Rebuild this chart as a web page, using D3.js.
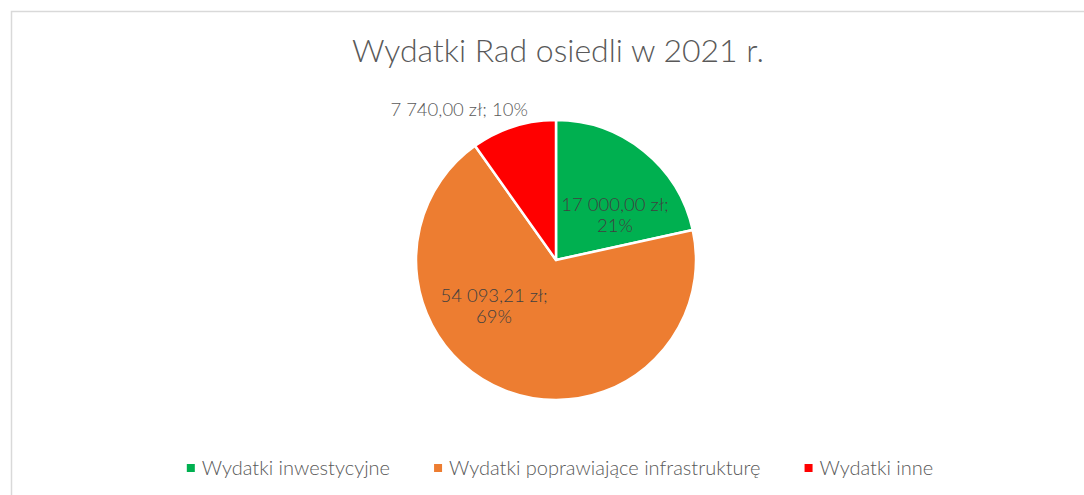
<!DOCTYPE html>
<html>
<head>
<meta charset="utf-8">
<script src="https://cdn.jsdelivr.net/npm/d3@7"></script>
<style>
  html, body { margin: 0; padding: 0; background: #fff; }
  svg { display: block; font-family: Lato, "Open Sans", sans-serif; }
</style>
</head>
<body>
<svg id="chart" width="1084" height="495"></svg>
<script>
'use strict';
// Data
const categories = ['Wydatki inwestycyjne', 'Wydatki poprawiające infrastrukturę', 'Wydatki inne'];
const values = [17000.00, 54093.21, 7740.00];
const colors = ['#00B050', '#ED7D31', '#FF0000'];
const title = 'Wydatki Rad osiedli w 2021 r.';

const width = 1084, height = 495;
const cx = 556, cy = 260, radius = 140;

const svg = d3.select('#chart');

// chart frame
svg.append('rect')
  .attr('x', 11.5).attr('y', 11.5)
  .attr('width', width + 20).attr('height', height + 20)
  .attr('fill', 'none').attr('stroke', '#d9d9d9').attr('stroke-width', 1.5);

svg.append('text')
  .attr('x', cx + 2).attr('y', 62)
  .attr('text-anchor', 'middle')
  .attr('font-size', 32).attr('font-weight', 300)
  .attr('fill', '#595959')
  .text(title);

const pl = d3.formatLocale({decimal: ',', thousands: ' ', grouping: [3], currency: ['', ' zł']});
const money = pl.format(',.2f');
const total = d3.sum(values);

// whole percents that add up to 100 (largest remainder), like the labels show
const raw = values.map(v => v / total * 100);
const pcts = raw.map(Math.floor);
let left = 100 - d3.sum(pcts);
d3.range(values.length)
  .sort((a, b) => (raw[b] - pcts[b]) - (raw[a] - pcts[a]))
  .forEach(i => { if (left > 0) { pcts[i]++; left--; } });

const items = categories.map((name, i) => ({name, value: values[i], color: colors[i], pct: pcts[i] + '%'}));
const pie = d3.pie().value(d => d.value).sort(null);
const arcs = pie(items);
const arc = d3.arc().innerRadius(0).outerRadius(radius);

const g = svg.append('g').attr('transform', `translate(${cx},${cy})`);
g.selectAll('path').data(arcs).enter().append('path')
  .attr('d', arc)
  .attr('fill', d => d.data.color)
  .attr('stroke', '#fff').attr('stroke-width', 2.5)
  .attr('stroke-linejoin', 'round');

// data labels
const inner = arcs.filter(d => d.value / total >= 0.15);
const outer = arcs.filter(d => d.value / total < 0.15);

inner.forEach(d => {
  const big = d.value / total > 0.5;
  // Excel nudges labels away from the centroid to fit the slice
  const a = big ? d.startAngle + (d.endAngle - d.startAngle) * 0.633 : (d.startAngle + d.endAngle) / 2 + 0.23;
  const r = big ? radius * 0.547 : radius * 0.534;
  const x = r * Math.sin(a), y = -r * Math.cos(a);
  const t = g.append('text')
    .attr('text-anchor', 'middle')
    .attr('font-size', 18.5).attr('font-weight', 300).attr('fill', '#404040');
  t.append('tspan').attr('x', x).attr('y', y - 3).text(money(d.value) + ' zł;');
  t.append('tspan').attr('x', x).attr('dy', 21).text(d.data.pct);
});

outer.forEach(d => {
  const a = (d.startAngle + d.endAngle) / 2;
  const r = radius + 12;
  g.append('text')
    .attr('x', r * Math.sin(a) + 18).attr('y', -r * Math.cos(a) + 1)
    .attr('text-anchor', 'end')
    .attr('font-size', 18.5).attr('font-weight', 300).attr('fill', '#595959')
    .text(money(d.value) + ' zł; ' + d.data.pct);
});

// legend
const legend = svg.append('g').attr('transform', 'translate(0,468)');
const lg = legend.selectAll('g').data(items).enter().append('g');
lg.append('rect').attr('width', 8).attr('height', 8).attr('y', -4)
  .attr('fill', d => d.color);
lg.append('text').attr('x', 15).attr('y', 7)
  .attr('font-size', 20).attr('font-weight', 300).attr('fill', '#595959')
  .text(d => d.name);
const gap = 44;
const widths = [];
lg.each(function() { widths.push(this.getBBox().width); });
const totalW = d3.sum(widths) + gap * (widths.length - 1);
let pos = 560 - totalW / 2;
lg.attr('transform', (d, i) => {
  const t = `translate(${pos},0)`;
  pos += widths[i] + gap;
  return t;
});
</script>
</body>
</html>
